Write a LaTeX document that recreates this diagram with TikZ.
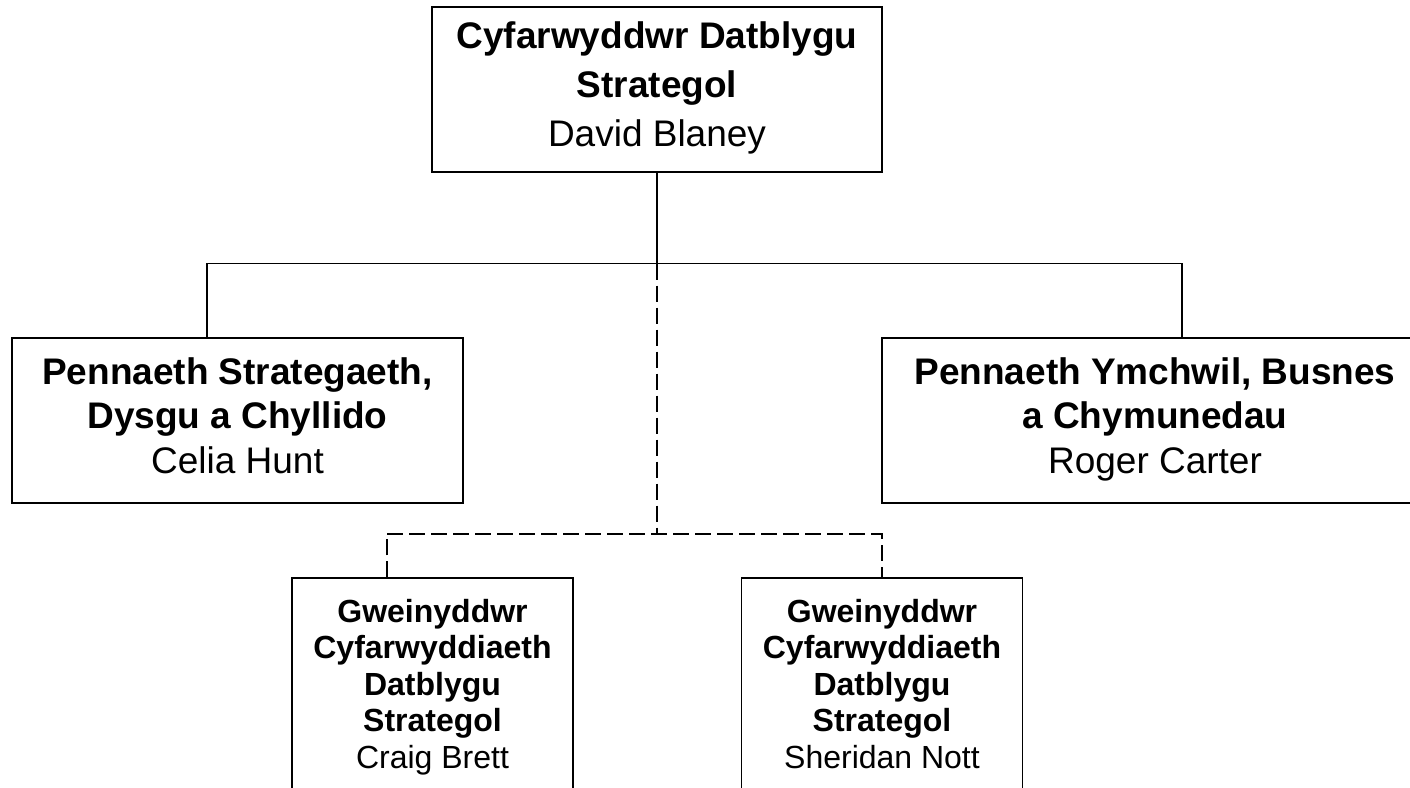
\documentclass[tikz,border=0pt]{standalone}
\usepackage{fontspec}
\setmainfont{Liberation Sans}
\usetikzlibrary{positioning}

\begin{document}
\begin{tikzpicture} [x = 1pt, y = -1pt, on grid, line width = 1.4pt,
        post/.style = {draw, inner sep = 0pt, align = center, minimum height = 165pt,
            text depth = 10pt, font = \fontsize{37}{44.5}\selectfont},
        assistant/.style = {post, minimum width = 281pt, minimum height = 218pt,
            text depth = 7pt, font = \fontsize{32}{36.5}\selectfont},
        vacant/.style = {line width = 2pt, dash pattern = on 16pt off 6pt}]

        \useasboundingbox (0,0) rectangle (1410,787);
        \clip (0,0) rectangle (1410,787);

        \node (dir) [post, minimum width = 450pt, font = \fontsize{37}{49}\selectfont]
            at (657,89.5) {\textbf{Cyfarwyddwr Datblygu}\\ \textbf{Strategol}\\ David Blaney};
        \node (strat) [post, minimum width = 451pt, below left = 331pt and 419.5pt of dir]
            {\textbf{Pennaeth Strategaeth,}\\ \textbf{Dysgu a Chyllido}\\ Celia Hunt};
        \node (res) [post, minimum width = 546pt, below right = 331pt and 498pt of dir]
            {\textbf{Pennaeth Ymchwil, Busnes}\\ \textbf{a Chymunedau}\\ Roger Carter};
        \node (adm1) [assistant, below left = 597.5pt and 224.5pt of dir]
            {\textbf{Gweinyddwr}\\ \textbf{Cyfarwyddiaeth}\\ \textbf{Datblygu}\\
            \textbf{Strategol}\\ Craig Brett};
        \node (adm2) [assistant, below right = 597.5pt and 225pt of dir]
            {\textbf{Gweinyddwr}\\ \textbf{Cyfarwyddiaeth}\\ \textbf{Datblygu}\\
            \textbf{Strategol}\\ Sheridan Nott};

        \draw (dir.south) -- ++(0,91) coordinate (fork);
        \draw ([xshift=-30.5pt]strat.north) |- (fork) -| ([xshift=27pt]res.north);
        \draw [vacant] (fork) -- ++(0,270) coordinate (dfork);
        \draw [vacant] ([xshift=-45.5pt]adm1.north) |- (dfork) -| (adm2.north);

    \end{tikzpicture}
\end{document}
